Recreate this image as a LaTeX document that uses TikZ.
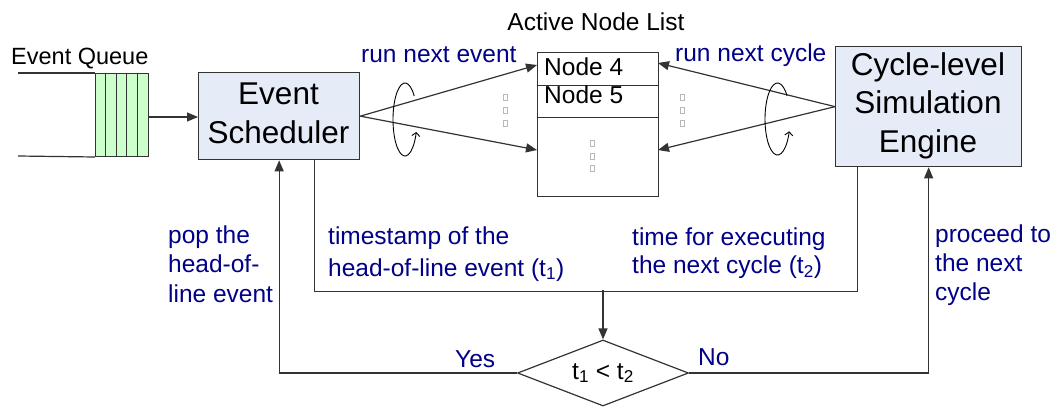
\documentclass[tikz,border=0pt]{standalone}
\usepackage{fontspec}
\setmainfont{Liberation Sans}
\usetikzlibrary{arrows.meta,shapes.geometric}
\definecolor{lblue}{HTML}{000088}
\definecolor{boxfill}{HTML}{E6ECF7}
\definecolor{qgreen}{HTML}{CCFFCC}
\definecolor{lineg}{HTML}{333333}
\begin{document}
\begin{tikzpicture}[x=1pt,y=-1pt,
  box/.style={draw=lineg, line width=1.3pt, fill=boxfill, inner sep=0pt, anchor=north west},
  cell/.style={draw=lineg, line width=1.2pt, fill=white, inner sep=0pt, anchor=north west, minimum width=121pt},
  big/.style={font=\fontsize{31.5}{38.3}\selectfont, align=center, inner sep=0pt, anchor=base},
  lbl/.style={font=\fontsize{24.5}{29.5}\selectfont, text=lblue, align=left, inner sep=0pt, anchor=base west},
  blk/.style={font=\fontsize{24.5}{29.5}\selectfont, text=black, inner sep=0pt, anchor=base west},
  conn/.style={draw=lineg, line width=1.2pt},
  arr/.style={conn, -{Triangle[length=11pt,width=9pt]}},
  loopy/.style={draw=black, line width=0.9pt, -{Straight Barb[length=3.5pt,width=8pt]}},
  glyph/.style={draw=gray!55, line width=0.5pt}
]
\useasboundingbox (0,0) rectangle (1059,407);

% event queue
\node[blk, font=\fontsize{23.5}{28}\selectfont] (eqt) at (11,64) {Event Queue};
\node[draw=lineg, line width=1pt, fill=qgreen, minimum width=53pt, minimum height=83pt, anchor=north west, inner sep=0pt] (q) at (95,73) {};
\foreach \xx in {105.6,116.2,126.8,137.4} \draw[lineg, line width=1pt] (\xx,73) -- (\xx,156);
\coordinate (qa) at (18,73);
\coordinate (qb) at (18,156);
\draw[conn] (qa) -- (q.north west);
\draw[conn] (qb) -- (q.south west);

% event scheduler
\node[box, minimum width=161pt, minimum height=87pt] (es) at (198,72) {};
\node[big] (estxt) at (278.5,143) {Event\\Scheduler};
\draw[arr] (q.east |- 0,117) -- (es.west |- 0,117);

% cycle level engine
\node[box, minimum width=186pt, minimum height=120pt] (cse) at (835,46) {};
\node[big] (csetxt) at (928,152) {Cycle-level\\Simulation\\Engine};

% active node list
\node[font=\fontsize{24.5}{29.5}\selectfont, inner sep=0pt, anchor=base] (anl) at (596,30) {Active Node List};
\node[cell, minimum height=33pt] (n4) at (537,52) {};
\node[cell, minimum height=32pt] (n5) at (537,85) {};
\node[cell, minimum height=79pt] (nr) at (537,117) {};
\node[blk] (n4t) at (544,75) {Node 4};
\node[blk] (n5t) at (544,103) {Node 5};
\coordinate (nlA) at (537,65);
\coordinate (nlB) at (537,150);
\coordinate (nrA) at (658,63);
\coordinate (nrB) at (658,150);

\draw[arr] (es.east) -- (nlA);
\draw[arr] (es.east) -- (nlB);
\draw[arr] (cse.west) -- (nrA);
\draw[arr] (cse.west) -- (nrB);

% loops
\draw[loopy] (405,119.5) ++(-40:12 and 36.5) arc[start angle=-40, end angle=-340, x radius=12, y radius=36.5];
\draw[loopy] (777.5,119) ++(-40:12.5 and 36) arc[start angle=-40, end angle=-340, x radius=12.5, y radius=36];

% missing-glyph boxes
\foreach \gx/\gy in {505/97,505/110,505/123,682/97,682/110,682/123,592/143,592/156,592/168}
  \draw[glyph] (\gx-2,\gy-3) rectangle (\gx+2,\gy+3);

\node[lbl] (rne) at (361,62) {run next event};
\node[lbl] (rnc) at (675,61) {run next cycle};

% decision
\node[diamond, aspect=2.6, draw=lineg, line width=1.2pt, minimum width=171pt, minimum height=66pt, inner sep=0pt,
      font=\fontsize{24.5}{29.5}\selectfont] (dec) at (603,373) {t\textsubscript{1} < t\textsubscript{2}};
\draw[conn] ([xshift=35.5pt]es.south) -- ++(0,131) -| ([xshift=-71pt]cse.south);
\coordinate (mj) at (603,290);
\draw[arr] (mj) -- (dec.north);
\draw[arr] (dec.west) -| (es.south);
\draw[arr] (dec.east) -| (cse.south);
\node[lbl] (yes) at (455,367) {Yes};
\node[lbl] (no) at (698,365) {No};

\node[lbl] (pop) at (168,302) {pop the\\head-of-\\line event};
\node[lbl, font=\fontsize{24.5}{32}\selectfont] (ts) at (328,276) {timestamp of the\\head-of-line event (t\textsubscript{1})};
\node[lbl, font=\fontsize{24.5}{28.5}\selectfont] (tfe) at (632,273.5) {time for executing\\the next cycle (t\textsubscript{2})};
\node[lbl, font=\fontsize{24.5}{29}\selectfont] (ptn) at (935,300) {proceed to\\the next\\cycle};
\end{tikzpicture}
\end{document}
